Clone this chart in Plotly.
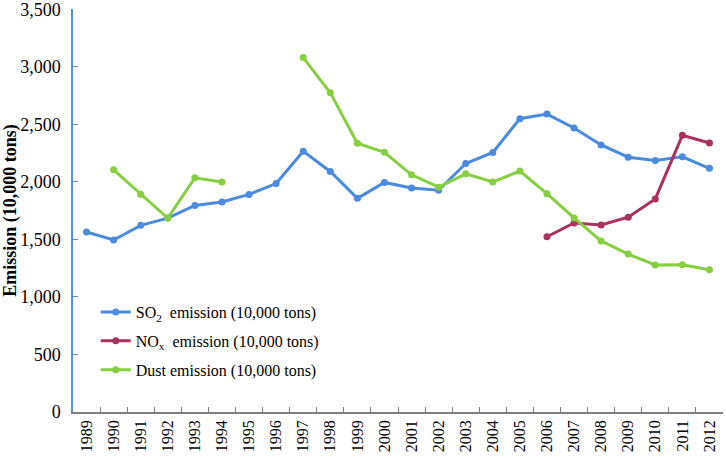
import plotly.graph_objects as go

years = [str(y) for y in range(1989, 2013)]
so2 = [1564, 1495, 1622, 1685, 1795, 1825, 1891, 1985, 2266, 2090, 1857, 1995,
       1947, 1927, 2159, 2255, 2549, 2589, 2468, 2321, 2214, 2185, 2218, 2118]
nox = [None] * 17 + [1523, 1643, 1625, 1693, 1852, 2404, 2338]
dust = [None, 2105, 1893, 1685, 2035, 1998, None, None, 3080, 2774, 2336, 2257,
        2061, 1954, 2070, 1999, 2094, 1897, 1686, 1487, 1372, 1278, 1279, 1236]
y_ticks = [0, 500, 1000, 1500, 2000, 2500, 3000, 3500]
y_tick_labels = ["0", "500", "1,000", "1,500", "2,000", "2,500", "3,000", "3,500"]

names = ["SO<sub>2</sub>\u00a0 emission (10,000 tons)",
         "NO<sub>x</sub>\u00a0 emission (10,000 tons)",
         "Dust emission (10,000 tons)"]
colors = ["#4A8BDF", "#AA325F", "#86CF3F"]
series = [so2, nox, dust]

FONT = "Liberation Serif"

fig = go.Figure()
for i, (nm, c, vals) in enumerate(zip(names, colors, series)):
    fig.add_trace(go.Scatter(
        x=years, y=vals, name=nm, mode="lines+markers",
        line=dict(color=c, width=3), marker=dict(color=c, size=7),
        connectgaps=False, legendgroup=f"g{i}"))

fig.update_layout(
    width=726, height=460,
    margin=dict(l=73, r=3, t=9, b=48, autoexpand=False),
    paper_bgcolor="white", plot_bgcolor="white",
    font=dict(family=FONT, color="black"),
    showlegend=True,
    legend=dict(x=0.035, y=0.29, xanchor="left", yanchor="top",
                bgcolor="rgba(0,0,0,0)", font=dict(size=16, family=FONT),
                tracegroupgap=5, itemwidth=30),
)
fig.update_xaxes(
    type="category", showgrid=False, showline=True, linecolor="#7f7f7f",
    linewidth=1.5, ticks="inside", tickson="boundaries", ticklen=5,
    tickcolor="#7f7f7f", tickangle=-90, tickfont=dict(size=16, family=FONT),
    range=[-0.5, 23.5], automargin=False)
fig.update_yaxes(
    range=[0, 3502], tickmode="array", tickvals=y_ticks, ticktext=y_tick_labels,
    showgrid=False, ticklabeloverflow="allow",
    showline=True, linecolor="#5B8FD0", linewidth=1.5, ticks="inside",
    ticklen=5, tickcolor="#5B8FD0", tickfont=dict(size=18, family=FONT),
    ticklabelstandoff=7, zeroline=False, automargin=False,
    title=dict(text="<b>Emission (10,000 tons)</b>", font=dict(size=18, family=FONT),
               standoff=8))

fig.write_html("out.html", config={"displayModeBar": False},
               post_script="document.body.style.margin='0';document.body.style.overflow='hidden';")
